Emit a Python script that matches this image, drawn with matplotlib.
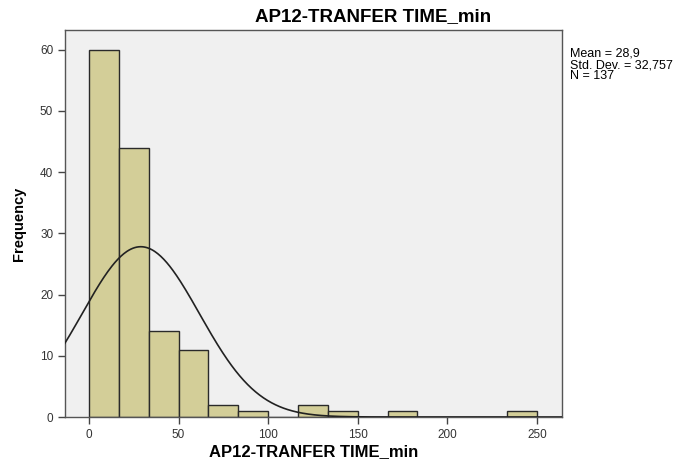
import matplotlib
matplotlib.use("Agg")
import matplotlib.pyplot as plt
import numpy as np

# Histogram data (bin width 250/15 minutes)
bin_width = 250 / 15
bin_edges = np.arange(0, 250 + bin_width / 2, bin_width)
counts = [60, 44, 14, 11, 2, 1, 0, 2, 1, 0, 1, 0, 0, 0, 1]

mean = 28.9
std = 32.757
n = 137

title = "AP12-TRANFER TIME_min"
xticks = [0, 50, 100, 150, 200, 250]
yticks = [0, 10, 20, 30, 40, 50, 60]

plt.rcParams["font.family"] = ["Liberation Sans", "DejaVu Sans"]

fig = plt.figure(figsize=(6.78, 4.61), dpi=100)
W, H = 678, 461
ax = fig.add_axes([65 / W, 1 - 417 / H, (562 - 65) / W, (417 - 30) / H])
ax.set_facecolor("#f0f0f0")

ax.bar(bin_edges[:-1], counts, width=bin_width, align="edge",
       color="#d3ce98", edgecolor="#2a2a2a", linewidth=1.0, zorder=2)

# Fitted normal curve scaled to counts
xs = np.linspace(-14, 264, 500)
ys = n * bin_width / (std * np.sqrt(2 * np.pi)) * np.exp(-0.5 * ((xs - mean) / std) ** 2)
ax.plot(xs, ys, color="#222222", linewidth=1.2, zorder=3)

ax.set_xlim(-13.4, 264)
ax.set_ylim(0, 63.2)
ax.set_xticks(xticks)
ax.set_yticks(yticks)
ax.tick_params(axis="both", labelsize=8.5, length=5, width=1, color="#444444",
               labelcolor="#333333")
for s in ax.spines.values():
    s.set_color("#555555")
    s.set_linewidth(1.0)

ax.set_xlabel(title, fontsize=12, fontweight="bold", labelpad=2)
ax.set_ylabel("Frequency", fontsize=10.5, fontweight="bold", labelpad=10)

fig.text(373 / W, 1 - 17 / H, title, ha="center", va="center",
         fontsize=13.5, fontweight="bold")
fig.text(570 / W, 1 - 48 / H,
         f"Mean = 28,9\nStd. Dev. = 32,757\nN = {n}",
         ha="left", va="top", fontsize=9, linespacing=0.9)

fig.savefig("out.png", dpi=100)
